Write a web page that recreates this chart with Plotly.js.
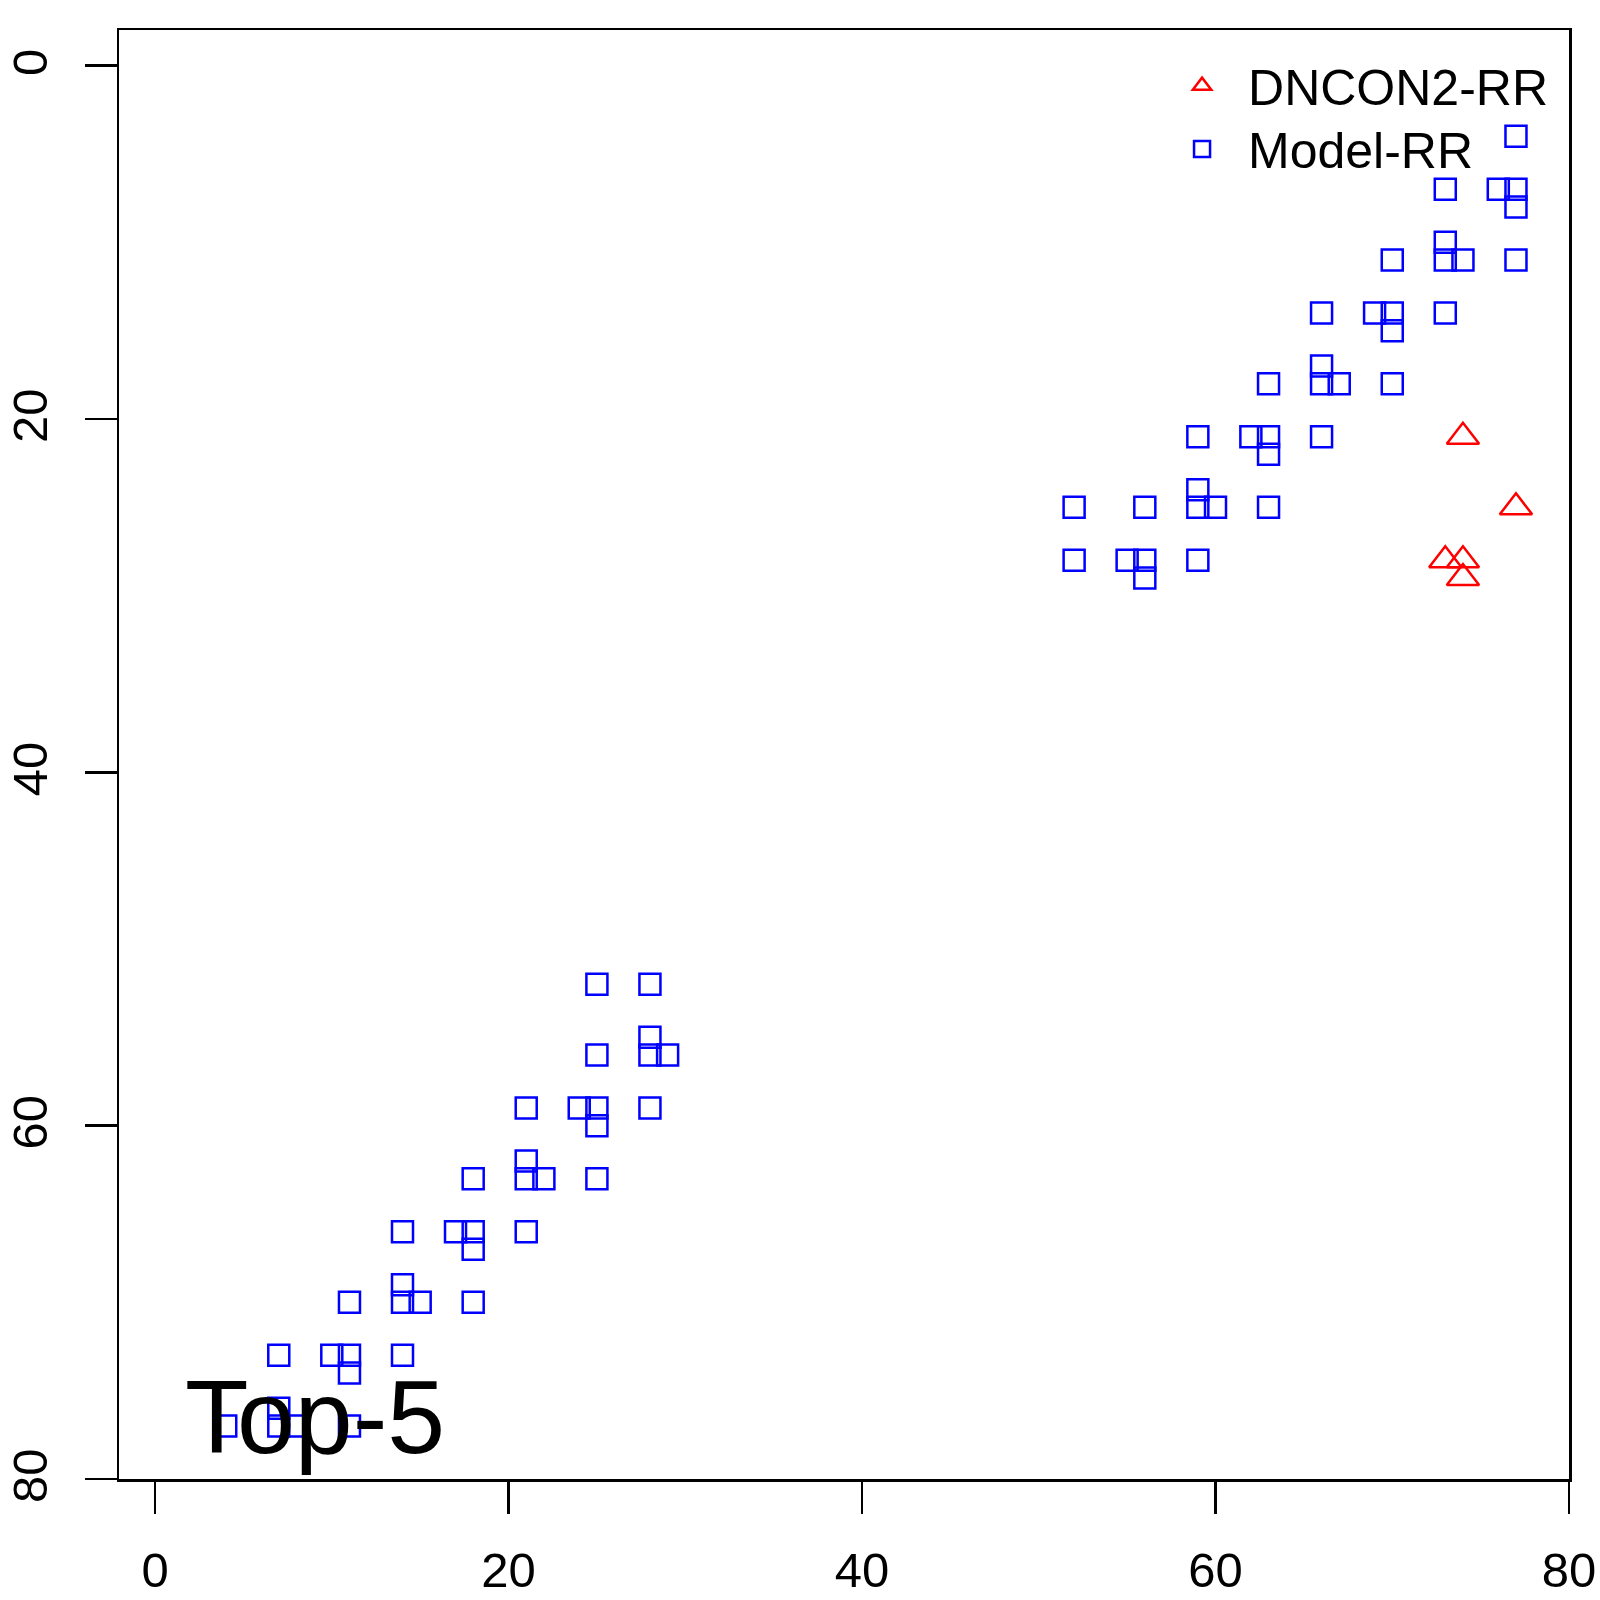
<!DOCTYPE html>
<html>
<head>
<meta charset="utf-8">
<script src="https://cdn.plot.ly/plotly-3.0.1.min.js"></script>
<style>
  html, body { margin: 0; padding: 0; background: #ffffff; }
  #chart { width: 1600px; height: 1600px; }
</style>
</head>
<body>
<div id="chart"></div>
<script>
// ---- data ----
const seriesNames = ['DNCON2-RR', 'Model-RR'];

const dnconX = [74, 77, 73, 74, 74];
const dnconY = [21, 25, 28, 28, 29];

const modelX = [
  4, 7, 7, 8, 11,
  7, 10, 11, 11, 14,
  11, 14, 14, 15, 18,
  14, 17, 18, 18, 21,
  18, 21, 21, 22, 25,
  21, 24, 25, 25, 28,
  25, 28, 28, 29,
  25, 28,
  77, 73, 76, 77, 77,
  70, 73, 73, 74, 77,
  66, 69, 70, 70, 73,
  63, 66, 66, 67, 70,
  59, 62, 63, 63, 66,
  52, 56, 59, 59, 60, 63,
  52, 55, 56, 56, 59
];
const modelY = [
  77, 76, 77, 77, 77,
  73, 73, 73, 74, 73,
  70, 69, 70, 70, 70,
  66, 66, 66, 67, 66,
  63, 62, 63, 63, 63,
  59, 59, 59, 60, 59,
  56, 55, 56, 56,
  52, 52,
  4, 7, 7, 7, 8,
  11, 10, 11, 11, 11,
  14, 14, 14, 15, 14,
  18, 17, 18, 18, 18,
  21, 21, 21, 22, 21,
  25, 25, 24, 25, 25, 25,
  28, 28, 28, 29, 28
];

const tickVals = [0, 20, 40, 60, 80];
const tickText = ['0', '20', '40', '60', '80'];
const panelLabel = 'Top-5';

// ---- styling ----
const FONT = '"Liberation Sans", Arial, Helvetica, sans-serif';

const traces = [
  {
    type: 'scatter', mode: 'markers', name: seriesNames[0],
    x: dnconX, y: dnconY, legend: 'legend',
    marker: { symbol: 'triangle-up-open', size: 28, color: '#ff0000',
              line: { color: '#ff0000', width: 2.5 } },
    hoverinfo: 'x+y'
  },
  {
    type: 'scatter', mode: 'markers', name: seriesNames[1],
    x: modelX, y: modelY, legend: 'legend2',
    marker: { symbol: 'square-open', size: 21, color: '#0000ff',
              line: { color: '#0000ff', width: 2.5 } },
    hoverinfo: 'x+y'
  }
];

const axisCommon = {
  showgrid: false, zeroline: false,
  showline: true, linecolor: '#000000', linewidth: 2.5, mirror: true,
  ticks: 'outside', ticklen: 32, tickwidth: 2.5, tickcolor: '#000000',
  tickmode: 'array', tickvals: tickVals, ticktext: tickText,
  tickfont: { family: FONT, size: 49, color: '#000000' }
};

const legendCommon = {
  xanchor: 'left', yanchor: 'top',
  bgcolor: 'rgba(0,0,0,0)', borderwidth: 0,
  itemwidth: 82,
  font: { family: FONT, size: 50, color: '#000000' }
};

const layout = {
  width: 1600, height: 1600,
  paper_bgcolor: '#ffffff', plot_bgcolor: '#ffffff',
  margin: { l: 119, r: 31, t: 30, b: 121, pad: 0 },
  showlegend: true,
  legend: Object.assign({}, legendCommon, { x: 0.7152, y: 0.9885 }),
  legend2: Object.assign({}, legendCommon, { x: 0.7152, y: 0.9448 }),
  xaxis: Object.assign({}, axisCommon, {
    range: [-2.04, 80],
    ticklabelstandoff: 15
  }),
  yaxis: Object.assign({}, axisCommon, {
    range: [80, -2.02],
    tickangle: -90,
    ticklabelstandoff: 18,
    ticklabelshift: -4
  }),
  annotations: [
    {
      text: panelLabel, xref: 'paper', yref: 'paper',
      x: 0.044, y: 0.0015, xanchor: 'left', yanchor: 'bottom',
      showarrow: false,
      font: { family: FONT, size: 104, color: '#000000' }
    }
  ]
};

Plotly.newPlot('chart', traces, layout, { displayModeBar: false, staticPlot: true });
</script>
</body>
</html>
